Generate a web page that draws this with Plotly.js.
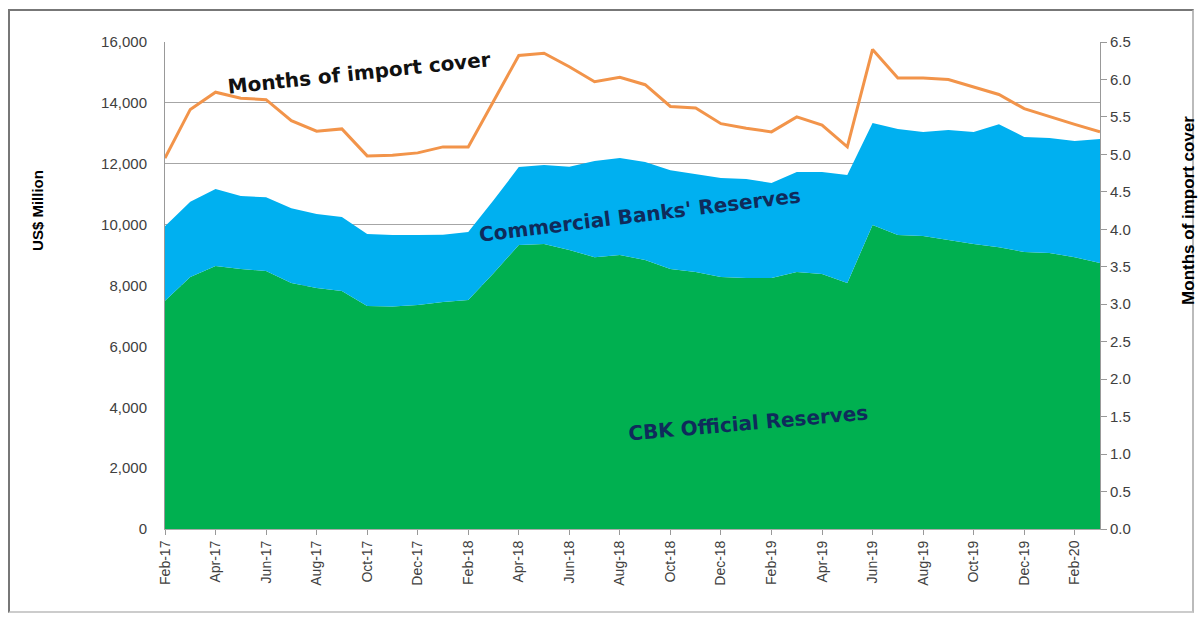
<!DOCTYPE html>
<html>
<head>
<meta charset="utf-8">
<script src="https://cdn.plot.ly/plotly-3.0.1.min.js"></script>
<style>
html,body{margin:0;padding:0;background:#fff;}
#frame{position:absolute;left:8px;top:9px;width:1186px;height:604px;border:2px solid #777;border-right-color:#bbb;border-bottom-color:#ccc;box-sizing:border-box;}
#chart{position:absolute;left:0;top:0;width:1200px;height:617px;}
</style>
</head>
<body>
<div id="frame"></div>
<div id="chart"></div>
<script>
const months = ["Feb-17","Mar-17","Apr-17","May-17","Jun-17","Jul-17","Aug-17","Sep-17","Oct-17","Nov-17","Dec-17","Jan-18",
  "Feb-18","Mar-18","Apr-18","May-18","Jun-18","Jul-18","Aug-18","Sep-18","Oct-18","Nov-18","Dec-18","Jan-19",
  "Feb-19","Mar-19","Apr-19","May-19","Jun-19","Jul-19","Aug-19","Sep-19","Oct-19","Nov-19","Dec-19","Jan-20",
  "Feb-20","Mar-20"];
const cbkOfficial = [7500,8280,8640,8540,8480,8080,7920,7820,7330,7310,7360,7460,
  7520,8400,9330,9360,9170,8930,9000,8840,8540,8440,8280,8250,
  8250,8440,8380,8080,9990,9660,9630,9490,9360,9260,9100,9070,
  8930,8740];
const commercialBanks = [2450,2470,2530,2400,2420,2460,2430,2430,2360,2350,2300,2210,
  2240,2400,2560,2600,2730,3160,3190,3220,3250,3220,3250,3250,
  3120,3290,3350,3550,3350,3480,3410,3620,3680,4040,3780,3780,
  3820,4070];
const importCover = [4.95,5.6,5.83,5.75,5.73,5.45,5.31,5.34,4.98,4.99,5.02,5.1,
  5.1,5.7,6.32,6.35,6.17,5.97,6.03,5.93,5.64,5.62,5.41,5.35,
  5.3,5.5,5.39,5.1,6.4,6.02,6.02,6.0,5.9,5.8,5.61,5.5,
  5.4,5.3];
const xTickLabels = months.filter((m,i)=>i%2===0);

const font = "Arial, 'Liberation Sans', sans-serif";
const wide = "'DejaVu Sans', Verdana, sans-serif";

const traces = [
  {x: months, y: cbkOfficial, type:'scatter', mode:'lines', stackgroup:'one',
   fillcolor:'#00B050', line:{width:0, color:'#00B050'}, name:'CBK Official Reserves', hoverinfo:'x+y'},
  {x: months, y: commercialBanks, type:'scatter', mode:'lines', stackgroup:'one',
   fillcolor:'#00B0F0', line:{width:0, color:'#00B0F0'}, name:"Commercial Banks' Reserves", hoverinfo:'x+y'},
  {x: months, y: importCover, type:'scatter', mode:'lines', yaxis:'y2',
   line:{width:3, color:'#F2944A'}, name:'Months of import cover'}
];

const ann = (text, x, y, angle, size, color, fam) => ({text, xref:'paper', yref:'paper', x, y, textangle:angle,
  xanchor:'center', yanchor:'middle', showarrow:false, font:{size, color, family:fam}});

const layout = {
  width:1200, height:617,
  margin:{l:165, r:100, t:42, b:88},
  paper_bgcolor:'rgba(0,0,0,0)', plot_bgcolor:'#fff',
  showlegend:false,
  font:{family:font, color:'#404040'},
  xaxis:{type:'category', categoryorder:'array', categoryarray: months,
    range:[0, months.length-1], tickmode:'array', tickvals: xTickLabels, ticktext: xTickLabels,
    tickangle:-90, tickfont:{size:14, color:'#404040'}, ticks:'outside', ticklen:5, tickcolor:'#999',
    showline:true, linecolor:'#aaa', linewidth:1, showgrid:false, zeroline:false, mirror:false},
  yaxis:{range:[0,16000], dtick:2000, tickformat:',', tickfont:{size:15, color:'#404040'},
    showgrid:true, gridcolor:'#a6a6a6', gridwidth:1, showline:true, linecolor:'#999', linewidth:1,
    ticks:'outside', ticklen:14, tickcolor:'rgba(0,0,0,0)', zeroline:false},
  yaxis2:{overlaying:'y', side:'right', range:[0,6.5], dtick:0.5, tickformat:'.1f',
    tickfont:{size:15, color:'#404040'}, showgrid:false, showline:true, linecolor:'#999', linewidth:1,
    ticks:'outside', ticklen:6, tickcolor:'#999', zeroline:false},
  annotations:[
    ann('<b>US$ Million</b>', -0.137, 0.655, -90, 15, '#000', font),
    ann('<b>Months of import cover</b>', 1.094, 0.655, -90, 17, '#000', font),
    ann('<b>Months of import cover</b>', 0.207, 0.936, -6, 20, '#111', wide),
    ann("<b>Commercial Banks' Reserves</b>", 0.508, 0.644, -7, 20, '#0F2B5B', wide),
    ann('<b>CBK Official Reserves</b>', 0.624, 0.217, -5, 20, '#0F2B5B', wide)
  ]
};

Plotly.newPlot('chart', traces, layout, {displayModeBar:false, staticPlot:true});
</script>
</body>
</html>
